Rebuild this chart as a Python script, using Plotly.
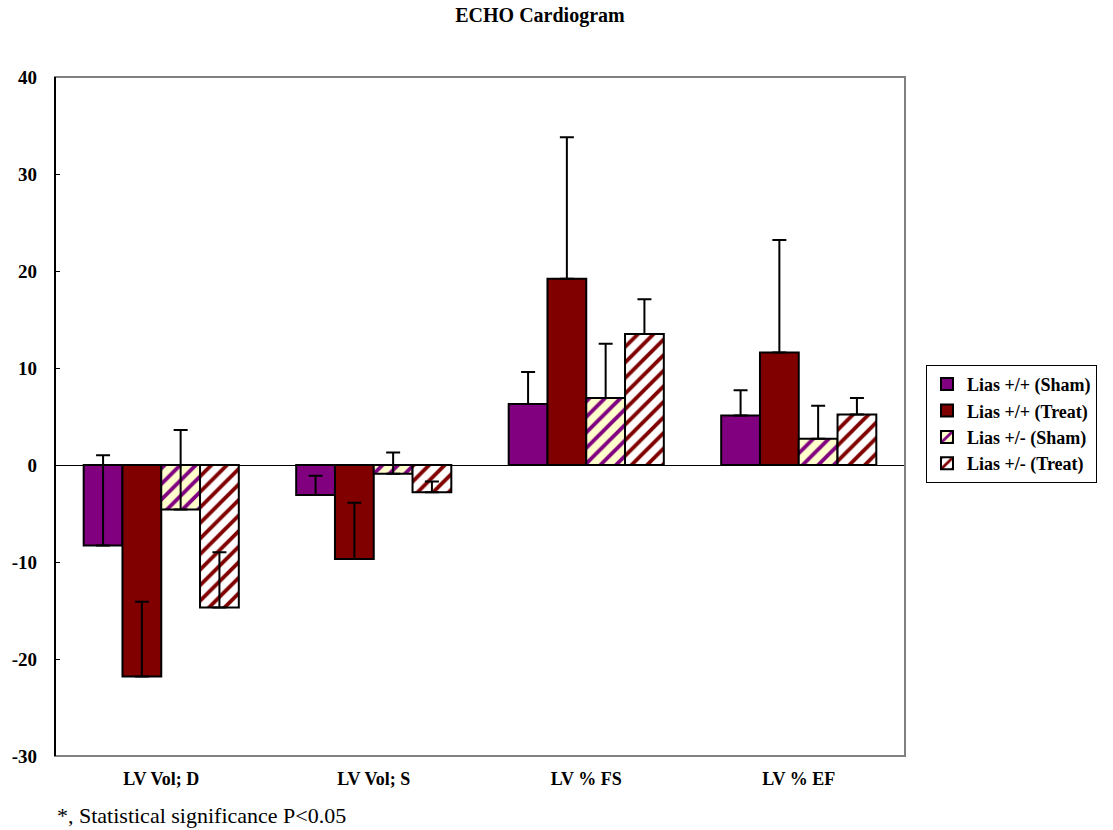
import plotly.graph_objects as go

# Echocardiography change measures per group
categories = ["LV Vol; D", "LV Vol; S", "LV % FS", "LV % EF"]

series_names = ["Lias +/+ (Sham)", "Lias +/+ (Treat)", "Lias +/- (Sham)", "Lias +/- (Treat)"]

wt_sham = [-8.3, -3.1, 6.3, 5.1]
wt_treat = [-21.8, -9.7, 19.2, 11.6]
het_sham = [-4.6, -0.9, 6.9, 2.7]
het_treat = [-14.7, -2.8, 13.5, 5.2]

wt_sham_err = [9.3, 2.0, 3.3, 2.6]
wt_treat_err = [7.7, 5.8, 14.6, 11.6]
het_sham_err = [8.2, 2.2, 5.6, 3.4]
het_treat_err = [5.7, 1.1, 3.6, 1.7]

y_ticks = [-30, -20, -10, 0, 10, 20, 30, 40]

PURPLE = "#800080"
MAROON = "#800000"
SERIF = "Liberation Serif, Times New Roman, serif"

values = [wt_sham, wt_treat, het_sham, het_treat]
errors = [wt_sham_err, wt_treat_err, het_sham_err, het_treat_err]
styles = [
    dict(color=PURPLE, pattern=None),
    dict(color=MAROON, pattern=None),
    dict(color="#FFFFCC", pattern=dict(shape="/", fgcolor=PURPLE, bgcolor="#FFFFCC",
                                       size=11, solidity=0.35, fillmode="replace")),
    dict(color="white", pattern=dict(shape="/", fgcolor=MAROON, bgcolor="white",
                                     size=11, solidity=0.35, fillmode="replace")),
]

fig = go.Figure()
for name, vals, errs, st in zip(series_names, values, errors, styles):
    marker = dict(color=st["color"], line=dict(color="black", width=2))
    if st["pattern"] is not None:
        marker["pattern"] = st["pattern"]
    fig.add_trace(go.Bar(
        x=categories, y=vals, name=name, marker=marker,
        error_y=dict(type="data", array=errs, arrayminus=[0] * len(errs), symmetric=False,
                     color="black", thickness=2, width=7),
    ))

fig.update_layout(
    width=1113, height=830,
    margin=dict(l=55, r=208, t=77, b=74),
    paper_bgcolor="white", plot_bgcolor="white",
    barmode="group", bargap=0.27, bargroupgap=0,
    font=dict(family=SERIF, color="black"),
    title=dict(text="ECHO Cardiogram", x=540 / 1113, xanchor="center", y=0.982, yanchor="middle",
               font=dict(family=SERIF, size=20, weight="bold", color="black")),
    showlegend=True,
    legend=dict(x=1.0247, xanchor="left", y=0.576, yanchor="top",
                bordercolor="black", borderwidth=1, bgcolor="white",
                font=dict(family=SERIF, size=18, weight="bold", color="black"),
                itemwidth=30, tracegroupgap=0),
)

fig.update_xaxes(
    showgrid=False, showline=False, ticks="", zeroline=False,
    tickfont=dict(family=SERIF, size=18, weight="bold", color="black"),
    ticklabelstandoff=10,
)
fig.update_yaxes(
    range=[-30, 40], tickvals=y_ticks, ticktext=[str(v) for v in y_ticks],
    showgrid=False, showline=False, ticks="inside", ticklen=5, tickcolor="black",
    zeroline=True, zerolinecolor="black", zerolinewidth=1,
    tickfont=dict(family=SERIF, size=19, weight="bold", color="black"),
    ticklabelstandoff=17,
)

# Plot frame: grey on top/right/bottom, black on the value axis side
fig.add_shape(type="rect", xref="paper", yref="paper", x0=0, x1=1, y0=0, y1=1,
              line=dict(color="#808080", width=2), layer="above")
fig.add_shape(type="line", xref="paper", yref="paper", x0=0, x1=0, y0=0, y1=1,
              line=dict(color="black", width=2), layer="above")

fig.add_annotation(text="*, Statistical significance P<0.05", xref="paper", yref="paper",
                   x=0, xanchor="left", y=-0.087, yanchor="middle", showarrow=False,
                   font=dict(family=SERIF, size=22, color="black"))

fig.write_html("out.html")
